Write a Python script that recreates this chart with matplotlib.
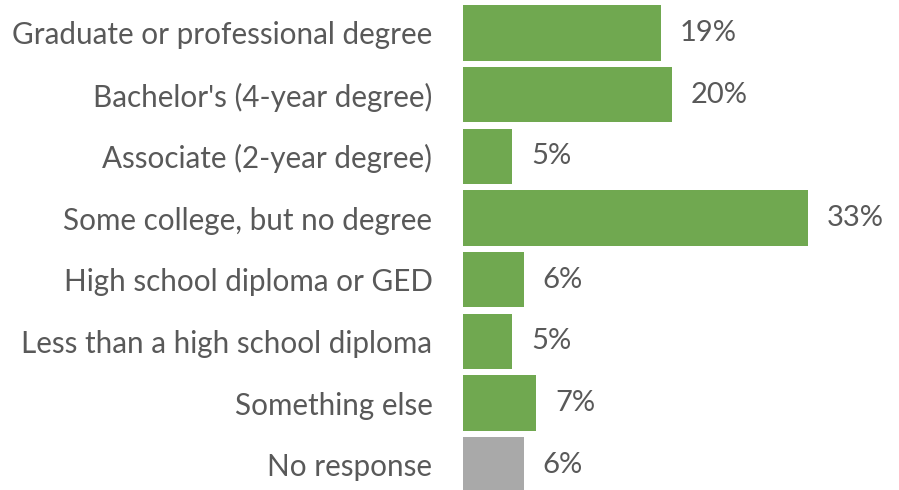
import matplotlib
matplotlib.use("Agg")
import matplotlib.pyplot as plt

plt.rcParams['font.family'] = ['Lato', 'DejaVu Sans']

categories = ["Graduate or professional degree", "Bachelor's (4-year degree)",
              "Associate (2-year degree)", "Some college, but no degree",
              "High school diploma or GED", "Less than a high school diploma",
              "Something else", "No response"]
values = [18.9, 20.0, 4.7, 33.0, 5.8, 4.7, 7.0, 5.8]
labels = ["19%", "20%", "5%", "33%", "6%", "5%", "7%", "6%"]

green = "#70a850"
gray = "#a9a9a9"
text_color = "#595959"
colors = [green] * 7 + [gray]

fig = plt.figure(figsize=(8.99, 4.90), dpi=100)
ax = fig.add_axes([463 / 899, 0, 436 / 899, 1])

y = list(range(len(categories)))
ax.barh(y, values, height=0.9, color=colors)

for yi, v, lab in zip(y, values, labels):
    ax.text(v + 1.8, yi, lab, va="center", ha="left", fontsize=21, color=text_color)

ax.set_xlim(0, 41.7)
ax.set_ylim(7.41, -0.535)
ax.set_yticks(y)
ax.set_yticklabels(categories, fontsize=21.3, color=text_color)
ax.tick_params(axis="y", length=0, pad=22)
ax.set_xticks([])
for s in ax.spines.values():
    s.set_visible(False)

fig.savefig("out.png", dpi=100)
